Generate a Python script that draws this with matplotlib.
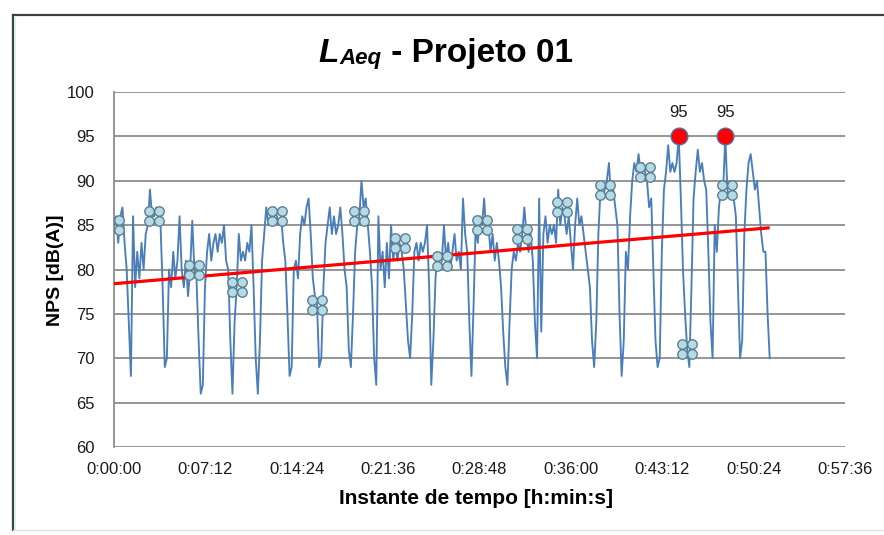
import numpy as np
import matplotlib
matplotlib.use("Agg")
import matplotlib.pyplot as plt
from matplotlib.path import Path
from matplotlib.ticker import FuncFormatter, MultipleLocator
from matplotlib.lines import Line2D

plt.rcParams['font.family'] = ['Liberation Sans', 'DejaVu Sans']

sample_step_s = 10
laeq_values = [
    85, 86, 83, 86, 87, 83, 80, 74, 68, 86, 78, 82, 79, 83, 80, 84, 85, 89, 86, 86,
    87, 86, 85, 78, 69, 70, 80, 78, 82, 79, 81, 86, 80, 78, 81, 77, 80, 85.5, 80, 79,
    72, 66, 67, 78, 82, 84, 81, 83, 84, 82, 84, 83, 85, 81, 80, 72, 66, 74, 78, 84,
    81, 82, 81, 83, 82, 85, 78, 70, 66, 72, 81, 84, 87, 85, 86, 85, 87, 86, 85, 86,
    83, 81, 75, 68, 69, 80, 81, 79, 84, 86, 85, 87, 88, 84, 79, 77, 76, 69, 70, 78,
    83, 85, 87, 84, 86, 84, 85, 87, 84, 80, 78, 71, 69, 75, 82, 85, 86, 90, 87, 88,
    85, 82, 78, 70, 67, 86, 80, 82, 78, 83, 79, 85, 81, 83, 81, 83, 82, 80, 76, 72,
    70, 75, 82, 83, 81, 83, 82, 83, 85, 78, 67, 72, 79, 82, 80, 81, 85, 81, 83, 80,
    82, 84, 81, 82, 80, 88, 84, 82, 74, 68, 76, 85, 83, 86, 85, 88, 84, 85, 82, 84,
    81, 83, 81, 78, 73, 69, 67, 74, 80, 82, 81, 83, 82, 84, 87, 84, 82, 84, 81, 74,
    70, 88, 73, 84, 86, 83, 85, 84, 85, 83, 89, 85, 87, 86, 84, 86, 83, 80, 85, 88,
    85, 86, 84, 82, 80, 78, 72, 69, 74, 84, 89, 88, 89, 90, 92, 88, 89, 87, 85, 75,
    68, 72, 82, 80, 86, 90, 92, 91, 93, 91, 92, 91, 90, 87, 88, 80, 72, 69, 70, 82,
    89, 91, 94, 91, 92, 91, 92, 95, 88, 80, 75, 71, 69, 78, 88, 91, 93.5, 91, 92, 90,
    89, 82, 74, 70, 85, 82, 87, 89, 89, 95, 89, 88, 89, 88, 86, 78, 70, 72, 84, 89,
    92, 93, 91, 89, 90, 87, 84, 82, 82, 75, 70,
]
marker_times_s = [0, 190, 380, 580, 770, 960, 1160, 1350, 1550, 1740,
                  1930, 2120, 2320, 2510, 2710, 2900]
trend_values = [78.4, 84.7]

x_tick_step_s = 432
x_max_s = 3456
y_min, y_max, y_step = 60, 100, 5

title_main = "L"
title_sub = "Aeq"
title_rest = " - Projeto 01"
x_label = "Instante de tempo [h:min:s]"
y_label = "NPS [dB(A)]"

# ---- derived ----
values = np.array(laeq_values, dtype=float)
times = np.arange(len(values)) * sample_step_s
marker_vals = np.interp(marker_times_s, times, values)
peak_idx = np.where(values == values.max())[0]

# ---- figure ----
W, H = 884, 535
fig = plt.figure(figsize=(W / 100, H / 100), dpi=100)
ax = fig.add_axes([114 / W, 1 - 447 / H, (845 - 114) / W, (447 - 92) / H])

ax.set_xlim(0, x_max_s)
ax.set_ylim(y_min, y_max)
ax.xaxis.set_major_locator(MultipleLocator(x_tick_step_s))
ax.yaxis.set_major_locator(MultipleLocator(y_step))


def hms(v, pos=None):
    v = int(round(v))
    return f"{v // 3600}:{(v % 3600) // 60:02d}:{v % 60:02d}"


ax.xaxis.set_major_formatter(FuncFormatter(hms))
ax.yaxis.set_major_formatter(FuncFormatter(lambda v, p: f"{v:.0f}"))

ax.grid(axis='y', color='#8c8c8c', linewidth=1.3)
ax.set_axisbelow(True)
for s in ['top', 'right', 'bottom']:
    ax.spines[s].set_visible(False)
ax.spines['left'].set_color('#8c8c8c')
ax.spines['left'].set_linewidth(1.3)
ax.tick_params(axis='both', length=0, labelsize=12, colors='#1a1a1a')
ax.tick_params(axis='y', pad=14)
ax.tick_params(axis='x', pad=11)

# main series
ax.plot(times, values, color='#4a7ebb', linewidth=1.35, zorder=3)

# trend line
ax.plot([times[0], times[-1]], trend_values, color='#ff0000', linewidth=2.3,
        zorder=4, solid_capstyle='butt')

# cluster markers (four small circles)
r = 0.88
quad = Path.make_compound_path(*[Path.circle((dx, dy), r)
                                 for dx in (-0.92, 0.92) for dy in (-0.92, 0.92)])
ax.plot(marker_times_s, marker_vals, linestyle='none', marker=quad, markersize=14,
        markerfacecolor='#b4dce6', markeredgecolor='#5f7f8f', markeredgewidth=1.0,
        zorder=5)

# peaks
ax.plot(times[peak_idx], values[peak_idx], linestyle='none', marker='o',
        markersize=12, markerfacecolor='#ff0000', markeredgecolor='#4f6fa8',
        markeredgewidth=1.0, zorder=6)
for i in peak_idx:
    ax.annotate(f"{values[i]:.0f}", (times[i], values[i]), xytext=(0, 12),
                textcoords='offset points', ha='center', va='bottom', fontsize=12,
                color='#1a1a1a')

# title: L (bold italic) + Aeq (smaller bold italic) + rest (bold)
t1 = fig.text(318 / W, 1 - 62 / H, title_main, ha='left', va='baseline',
              fontsize=24, fontweight='bold', fontstyle='italic')
t2 = ax.annotate(title_sub, xy=(1, 0), xycoords=t1, xytext=(1, 0),
                 textcoords='offset points', ha='left', va='bottom',
                 fontsize=16, fontweight='bold', fontstyle='italic',
                 annotation_clip=False)
t3 = ax.annotate(title_rest, xy=(1, 0), xycoords=t2, xytext=(0, 0),
                 textcoords='offset points', ha='left', va='bottom',
                 fontsize=24, fontweight='bold', annotation_clip=False)

fig.text(476 / W, 1 - 499 / H, x_label, ha='center', va='center',
         fontsize=15, fontweight='bold')
fig.text(56 / W, 1 - 270 / H, y_label, ha='center', va='center', rotation=90,
         fontsize=14, fontweight='bold')

# chart frame
fig.add_artist(Line2D([13 / W, 1.0], [1 - 15 / H, 1 - 15 / H], color='#404040',
                      linewidth=1.6, transform=fig.transFigure))
fig.add_artist(Line2D([13 / W, 13 / W], [1 - 15 / H, 1 - 530 / H], color='#404040',
                      linewidth=1.6, transform=fig.transFigure))
fig.add_artist(Line2D([15 / W, 15 / W], [1 - 17 / H, 1 - 530 / H], color='#d4f0f0',
                      linewidth=1.2, transform=fig.transFigure))
fig.add_artist(Line2D([13 / W, 1.0], [1 - 530 / H, 1 - 530 / H], color='#e0e0e0',
                      linewidth=1.0, transform=fig.transFigure))

fig.savefig("out.png", dpi=100)
